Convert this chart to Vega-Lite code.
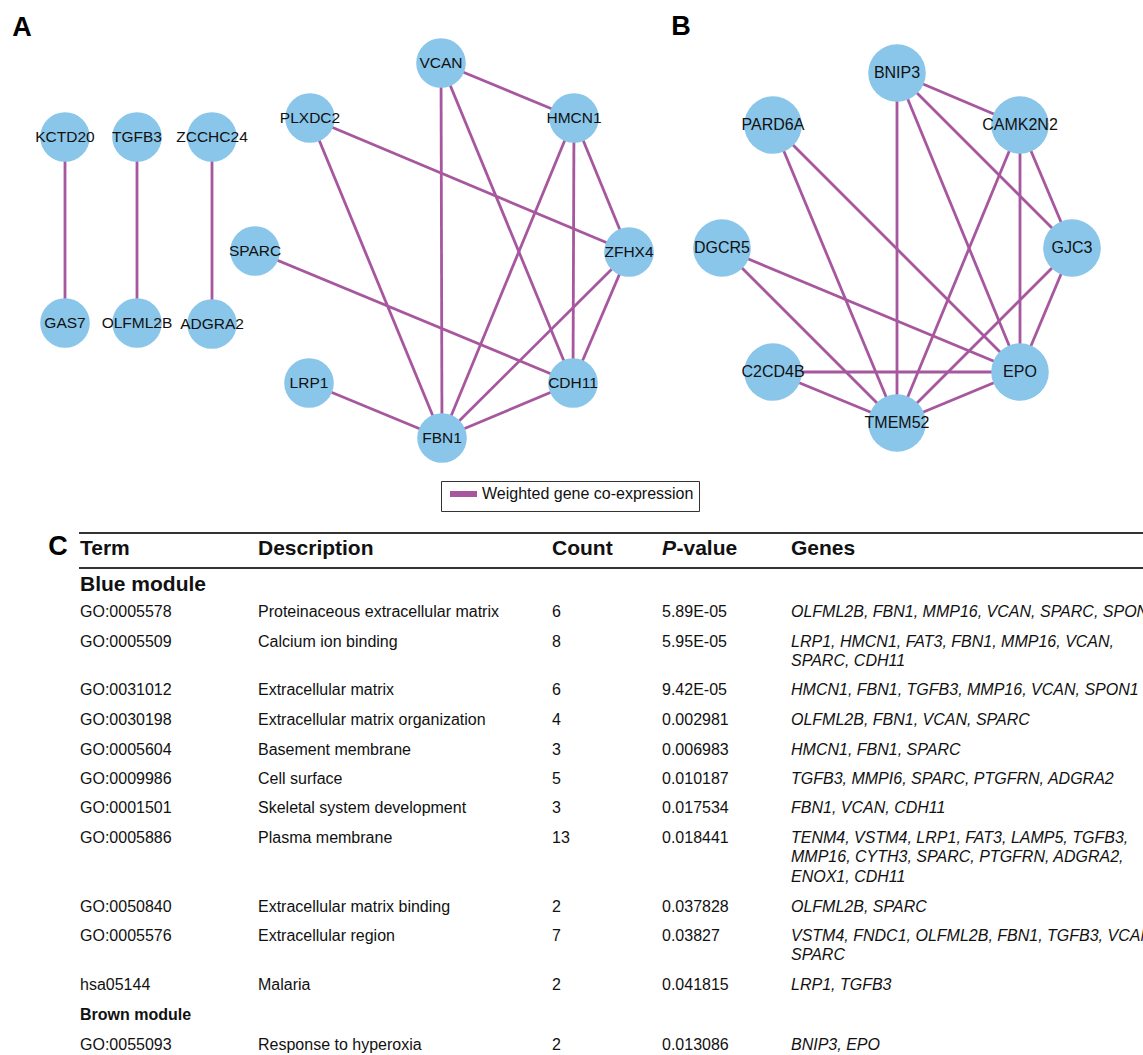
{
  "$schema": "https://vega.github.io/schema/vega-lite/v6.json",
  "width": 1143,
  "height": 1055,
  "autosize": {"type": "none"},
  "padding": 0,
  "background": "white",
  "config": {"view": {"stroke": null}, "font": "Liberation Sans", "text": {"font": "Liberation Sans"}},
  "datasets": {
    "nodes": [
      {"name": "KCTD20", "panel": "A", "x": 65, "y": 137},
      {"name": "TGFB3", "panel": "A", "x": 137, "y": 137},
      {"name": "ZCCHC24", "panel": "A", "x": 212, "y": 137},
      {"name": "GAS7", "panel": "A", "x": 65, "y": 323},
      {"name": "OLFML2B", "panel": "A", "x": 137, "y": 323},
      {"name": "ADGRA2", "panel": "A", "x": 212, "y": 324},
      {"name": "VCAN", "panel": "A", "x": 441, "y": 63},
      {"name": "PLXDC2", "panel": "A", "x": 310, "y": 118},
      {"name": "HMCN1", "panel": "A", "x": 574, "y": 118},
      {"name": "SPARC", "panel": "A", "x": 255, "y": 251},
      {"name": "ZFHX4", "panel": "A", "x": 629, "y": 252},
      {"name": "LRP1", "panel": "A", "x": 309, "y": 383},
      {"name": "CDH11", "panel": "A", "x": 573, "y": 383},
      {"name": "FBN1", "panel": "A", "x": 442, "y": 438},
      {"name": "BNIP3", "panel": "B", "x": 897, "y": 73},
      {"name": "PARD6A", "panel": "B", "x": 773, "y": 125},
      {"name": "CAMK2N2", "panel": "B", "x": 1020, "y": 125},
      {"name": "DGCR5", "panel": "B", "x": 722, "y": 248},
      {"name": "GJC3", "panel": "B", "x": 1072, "y": 248},
      {"name": "C2CD4B", "panel": "B", "x": 773, "y": 372},
      {"name": "EPO", "panel": "B", "x": 1020, "y": 372},
      {"name": "TMEM52", "panel": "B", "x": 897, "y": 423}
    ],
    "edges": [
      {"s": "KCTD20", "t": "GAS7"},
      {"s": "TGFB3", "t": "OLFML2B"},
      {"s": "ZCCHC24", "t": "ADGRA2"},
      {"s": "VCAN", "t": "HMCN1"},
      {"s": "VCAN", "t": "FBN1"},
      {"s": "VCAN", "t": "CDH11"},
      {"s": "PLXDC2", "t": "ZFHX4"},
      {"s": "PLXDC2", "t": "FBN1"},
      {"s": "HMCN1", "t": "FBN1"},
      {"s": "HMCN1", "t": "CDH11"},
      {"s": "HMCN1", "t": "ZFHX4"},
      {"s": "SPARC", "t": "CDH11"},
      {"s": "ZFHX4", "t": "FBN1"},
      {"s": "ZFHX4", "t": "CDH11"},
      {"s": "LRP1", "t": "FBN1"},
      {"s": "CDH11", "t": "FBN1"},
      {"s": "BNIP3", "t": "CAMK2N2"},
      {"s": "BNIP3", "t": "TMEM52"},
      {"s": "BNIP3", "t": "EPO"},
      {"s": "BNIP3", "t": "GJC3"},
      {"s": "PARD6A", "t": "TMEM52"},
      {"s": "PARD6A", "t": "EPO"},
      {"s": "CAMK2N2", "t": "GJC3"},
      {"s": "CAMK2N2", "t": "EPO"},
      {"s": "CAMK2N2", "t": "TMEM52"},
      {"s": "DGCR5", "t": "EPO"},
      {"s": "DGCR5", "t": "TMEM52"},
      {"s": "GJC3", "t": "EPO"},
      {"s": "GJC3", "t": "TMEM52"},
      {"s": "C2CD4B", "t": "EPO"},
      {"s": "C2CD4B", "t": "TMEM52"},
      {"s": "EPO", "t": "TMEM52"}
    ],
    "letters": [
      {"text": "A", "x": 22, "y": 28},
      {"text": "B", "x": 681, "y": 27},
      {"text": "C", "x": 58, "y": 547}
    ],
    "rules": [
      {"x": 79, "x2": 1143, "y": 533},
      {"x": 79, "x2": 1143, "y": 568}
    ],
    "columns": [
      {"key": "term", "label": "Term", "x": 80, "y": 549},
      {"key": "desc", "label": "Description", "x": 258, "y": 549},
      {"key": "count", "label": "Count", "x": 552, "y": 549},
      {"key": "p", "label": "P", "x": 662, "y": 549},
      {"key": "genes", "label": "Genes", "x": 791, "y": 549}
    ],
    "modules": [
      {"name": "Blue module", "level": "major", "x": 80, "y": 585},
      {"name": "Brown module", "level": "minor", "x": 80, "y": 1015}
    ],
    "table": [
      {"term": "GO:0005578", "desc": "Proteinaceous extracellular matrix", "count": "6", "p": "5.89E-05", "y": 612},
      {"term": "GO:0005509", "desc": "Calcium ion binding", "count": "8", "p": "5.95E-05", "y": 642},
      {"term": "GO:0031012", "desc": "Extracellular matrix", "count": "6", "p": "9.42E-05", "y": 690},
      {"term": "GO:0030198", "desc": "Extracellular matrix organization", "count": "4", "p": "0.002981", "y": 720},
      {"term": "GO:0005604", "desc": "Basement membrane", "count": "3", "p": "0.006983", "y": 750},
      {"term": "GO:0009986", "desc": "Cell surface", "count": "5", "p": "0.010187", "y": 779},
      {"term": "GO:0001501", "desc": "Skeletal system development", "count": "3", "p": "0.017534", "y": 808},
      {"term": "GO:0005886", "desc": "Plasma membrane", "count": "13", "p": "0.018441", "y": 838},
      {"term": "GO:0050840", "desc": "Extracellular matrix binding", "count": "2", "p": "0.037828", "y": 907},
      {"term": "GO:0005576", "desc": "Extracellular region", "count": "7", "p": "0.03827", "y": 936},
      {"term": "hsa05144", "desc": "Malaria", "count": "2", "p": "0.041815", "y": 985},
      {"term": "GO:0055093", "desc": "Response to hyperoxia", "count": "2", "p": "0.013086", "y": 1045}
    ],
    "geneLines": [
      {"genes": "OLFML2B, FBN1, MMP16, VCAN, SPARC, SPON1", "y": 612},
      {"genes": "LRP1, HMCN1, FAT3, FBN1, MMP16, VCAN,", "y": 642},
      {"genes": "SPARC, CDH11", "y": 661},
      {"genes": "HMCN1, FBN1, TGFB3, MMP16, VCAN, SPON1", "y": 690},
      {"genes": "OLFML2B, FBN1, VCAN, SPARC", "y": 720},
      {"genes": "HMCN1, FBN1, SPARC", "y": 750},
      {"genes": "TGFB3, MMPI6, SPARC, PTGFRN, ADGRA2", "y": 779},
      {"genes": "FBN1, VCAN, CDH11", "y": 808},
      {"genes": "TENM4, VSTM4, LRP1, FAT3, LAMP5, TGFB3,", "y": 838},
      {"genes": "MMP16, CYTH3, SPARC, PTGFRN, ADGRA2,", "y": 857},
      {"genes": "ENOX1, CDH11", "y": 877},
      {"genes": "OLFML2B, SPARC", "y": 907},
      {"genes": "VSTM4, FNDC1, OLFML2B, FBN1, TGFB3, VCAN,", "y": 936},
      {"genes": "SPARC", "y": 955},
      {"genes": "LRP1, TGFB3", "y": 985},
      {"genes": "BNIP3, EPO", "y": 1045}
    ]
  },
  "layer": [
    {
      "data": {"name": "edges"},
      "transform": [
        {"lookup": "s", "from": {"data": {"name": "nodes"}, "key": "name", "fields": ["x", "y"]}, "as": ["sx", "sy"]},
        {"lookup": "t", "from": {"data": {"name": "nodes"}, "key": "name", "fields": ["x", "y"]}, "as": ["tx", "ty"]}
      ],
      "mark": {"type": "rule", "strokeWidth": 2.8},
      "encoding": {
        "x": {"field": "sx", "type": "quantitative", "scale": {"domain": [0, 1143], "nice": false, "zero": false}, "axis": null},
        "y": {"field": "sy", "type": "quantitative", "scale": {"domain": [0, 1055], "nice": false, "zero": false, "reverse": true}, "axis": null},
        "x2": {"field": "tx"},
        "y2": {"field": "ty"},
        "color": {
          "datum": "Weighted gene co-expression",
          "type": "nominal",
          "scale": {"domain": ["Weighted gene co-expression"], "range": ["#a6579e"]},
          "legend": {
            "orient": "none", "legendX": 441, "legendY": 481, "title": null,
            "symbolType": "M-0.8,0H4.6", "symbolStrokeWidth": 6, "symbolSize": 100,
            "labelFontSize": 16, "labelFont": "Liberation Sans", "labelColor": "#111",
            "strokeColor": "#333", "padding": 5, "labelOffset": 20, "labelLimit": 400
          }
        }
      }
    },
    {
      "data": {"name": "nodes"},
      "transform": [{"filter": "datum.panel == 'A'"}],
      "mark": {"type": "circle", "opacity": 1, "color": "#89c6ea", "size": 2460},
      "encoding": {
        "x": {"field": "x", "type": "quantitative", "scale": {"domain": [0, 1143], "nice": false, "zero": false}, "axis": null},
        "y": {"field": "y", "type": "quantitative", "scale": {"domain": [0, 1055], "nice": false, "zero": false, "reverse": true}, "axis": null}
      }
    },
    {
      "data": {"name": "nodes"},
      "transform": [{"filter": "datum.panel == 'B'"}],
      "mark": {"type": "circle", "opacity": 1, "color": "#89c6ea", "size": 3320},
      "encoding": {
        "x": {"field": "x", "type": "quantitative", "scale": {"domain": [0, 1143], "nice": false, "zero": false}, "axis": null},
        "y": {"field": "y", "type": "quantitative", "scale": {"domain": [0, 1055], "nice": false, "zero": false, "reverse": true}, "axis": null}
      }
    },
    {
      "data": {"name": "nodes"},
      "transform": [{"filter": "datum.panel == 'A'"}],
      "mark": {"type": "text", "fontSize": 15.5, "color": "#111", "align": "center", "baseline": "middle"},
      "encoding": {
        "x": {"field": "x", "type": "quantitative", "scale": {"domain": [0, 1143], "nice": false, "zero": false}, "axis": null},
        "y": {"field": "y", "type": "quantitative", "scale": {"domain": [0, 1055], "nice": false, "zero": false, "reverse": true}, "axis": null},
        "text": {"field": "name", "type": "nominal"}
      }
    },
    {
      "data": {"name": "nodes"},
      "transform": [{"filter": "datum.panel == 'B'"}],
      "mark": {"type": "text", "fontSize": 16, "color": "#111", "align": "center", "baseline": "middle"},
      "encoding": {
        "x": {"field": "x", "type": "quantitative", "scale": {"domain": [0, 1143], "nice": false, "zero": false}, "axis": null},
        "y": {"field": "y", "type": "quantitative", "scale": {"domain": [0, 1055], "nice": false, "zero": false, "reverse": true}, "axis": null},
        "text": {"field": "name", "type": "nominal"}
      }
    },
    {
      "data": {"name": "letters"},
      "mark": {"type": "text", "fontSize": 27, "fontWeight": "bold", "color": "#000", "align": "center", "baseline": "middle"},
      "encoding": {
        "x": {"field": "x", "type": "quantitative", "scale": {"domain": [0, 1143], "nice": false, "zero": false}, "axis": null},
        "y": {"field": "y", "type": "quantitative", "scale": {"domain": [0, 1055], "nice": false, "zero": false, "reverse": true}, "axis": null},
        "text": {"field": "text", "type": "nominal"}
      }
    },
    {
      "data": {"name": "rules"},
      "mark": {"type": "rule", "strokeWidth": 1.8, "color": "#333"},
      "encoding": {
        "x": {"field": "x", "type": "quantitative", "scale": {"domain": [0, 1143], "nice": false, "zero": false}, "axis": null},
        "x2": {"field": "x2"},
        "y": {"field": "y", "type": "quantitative", "scale": {"domain": [0, 1055], "nice": false, "zero": false, "reverse": true}, "axis": null}
      }
    },
    {
      "data": {"name": "columns"},
      "transform": [{"filter": "datum.key != 'p'"}],
      "mark": {"type": "text", "fontSize": 21, "fontWeight": "bold", "color": "#111", "align": "left", "baseline": "middle"},
      "encoding": {
        "x": {"field": "x", "type": "quantitative", "scale": {"domain": [0, 1143], "nice": false, "zero": false}, "axis": null},
        "y": {"field": "y", "type": "quantitative", "scale": {"domain": [0, 1055], "nice": false, "zero": false, "reverse": true}, "axis": null},
        "text": {"field": "label", "type": "nominal"}
      }
    },
    {
      "data": {"name": "columns"},
      "transform": [{"filter": "datum.key == 'p'"}],
      "mark": {"type": "text", "fontSize": 21, "fontWeight": "bold", "fontStyle": "italic", "color": "#111", "align": "left", "baseline": "middle"},
      "encoding": {
        "x": {"field": "x", "type": "quantitative", "scale": {"domain": [0, 1143], "nice": false, "zero": false}, "axis": null},
        "y": {"field": "y", "type": "quantitative", "scale": {"domain": [0, 1055], "nice": false, "zero": false, "reverse": true}, "axis": null},
        "text": {"field": "label", "type": "nominal"}
      }
    },
    {
      "data": {"name": "columns"},
      "transform": [{"filter": "datum.key == 'p'"}],
      "mark": {"type": "text", "fontSize": 21, "fontWeight": "bold", "color": "#111", "align": "left", "baseline": "middle", "dx": 14.5, "text": "-value"},
      "encoding": {
        "x": {"field": "x", "type": "quantitative", "scale": {"domain": [0, 1143], "nice": false, "zero": false}, "axis": null},
        "y": {"field": "y", "type": "quantitative", "scale": {"domain": [0, 1055], "nice": false, "zero": false, "reverse": true}, "axis": null}
      }
    },
    {
      "data": {"name": "modules"},
      "transform": [{"filter": "datum.level == 'major'"}],
      "mark": {"type": "text", "fontSize": 21, "fontWeight": "bold", "color": "#111", "align": "left", "baseline": "middle"},
      "encoding": {
        "x": {"field": "x", "type": "quantitative", "scale": {"domain": [0, 1143], "nice": false, "zero": false}, "axis": null},
        "y": {"field": "y", "type": "quantitative", "scale": {"domain": [0, 1055], "nice": false, "zero": false, "reverse": true}, "axis": null},
        "text": {"field": "name", "type": "nominal"}
      }
    },
    {
      "data": {"name": "modules"},
      "transform": [{"filter": "datum.level == 'minor'"}],
      "mark": {"type": "text", "fontSize": 16, "fontWeight": "bold", "color": "#111", "align": "left", "baseline": "middle"},
      "encoding": {
        "x": {"field": "x", "type": "quantitative", "scale": {"domain": [0, 1143], "nice": false, "zero": false}, "axis": null},
        "y": {"field": "y", "type": "quantitative", "scale": {"domain": [0, 1055], "nice": false, "zero": false, "reverse": true}, "axis": null},
        "text": {"field": "name", "type": "nominal"}
      }
    },
    {
      "data": {"name": "table"},
      "transform": [
        {"fold": ["term", "desc", "count", "p"], "as": ["key", "value"]},
        {"lookup": "key", "from": {"data": {"name": "columns"}, "key": "key", "fields": ["x"]}}
      ],
      "mark": {"type": "text", "fontSize": 16, "color": "#111", "align": "left", "baseline": "middle"},
      "encoding": {
        "x": {"field": "x", "type": "quantitative", "scale": {"domain": [0, 1143], "nice": false, "zero": false}, "axis": null},
        "y": {"field": "y", "type": "quantitative", "scale": {"domain": [0, 1055], "nice": false, "zero": false, "reverse": true}, "axis": null},
        "text": {"field": "value", "type": "nominal"}
      }
    },
    {
      "data": {"name": "geneLines"},
      "transform": [
        {"fold": ["genes"], "as": ["key", "value"]},
        {"lookup": "key", "from": {"data": {"name": "columns"}, "key": "key", "fields": ["x"]}}
      ],
      "mark": {"type": "text", "fontSize": 16, "fontStyle": "italic", "color": "#111", "align": "left", "baseline": "middle", "clip": true},
      "encoding": {
        "x": {"field": "x", "type": "quantitative", "scale": {"domain": [0, 1143], "nice": false, "zero": false}, "axis": null},
        "y": {"field": "y", "type": "quantitative", "scale": {"domain": [0, 1055], "nice": false, "zero": false, "reverse": true}, "axis": null},
        "text": {"field": "value", "type": "nominal"}
      }
    }
  ]
}
